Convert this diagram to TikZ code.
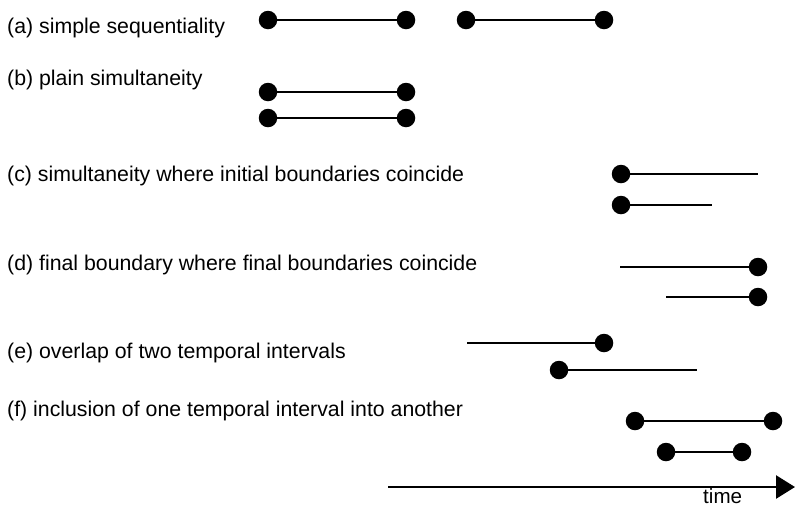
\documentclass[tikz,border=0pt]{standalone}
\usepackage{fontspec}
\setmainfont{Liberation Sans}
\usetikzlibrary{arrows.meta}
\begin{document}
\begin{tikzpicture}[x=1pt,y=-1pt,
  dot/.style={circle,fill=black,draw=none,inner sep=0pt,minimum size=18.5pt},
  seg/.style={line width=2pt},
  lbl/.style={anchor=base west,inner sep=0pt,font=\fontsize{21.3}{24}\selectfont},
  timeaxis/.style={line width=2.6pt,-{Triangle[length=19pt,width=23pt]}}]
\useasboundingbox (0,0) rectangle (795,507);
% labels
\node[lbl] (la) at (7,33) {(a) simple sequentiality};
\node[lbl] (lb) at (7,85) {(b) plain simultaneity};
\node[lbl] (lc) at (7,181) {(c) simultaneity where initial boundaries coincide};
\node[lbl] (ld) at (7,270) {(d) final boundary where final boundaries coincide};
\node[lbl] (le) at (7,358) {(e) overlap of two temporal intervals};
\node[lbl] (lf) at (7,416) {(f) inclusion of one temporal interval into another};
% (a)
\node[dot] (a1) at (268,20) {};
\node[dot] (a2) at (406,20) {};
\node[dot] (a3) at (466,20) {};
\node[dot] (a4) at (604,20) {};
\draw[seg] (a1) -- (a2);
\draw[seg] (a3) -- (a4);
% (b)
\node[dot] (b1) at (268,92) {};
\node[dot] (b2) at (406,92) {};
\node[dot] (b3) at (268,118) {};
\node[dot] (b4) at (406,118) {};
\draw[seg] (b1) -- (b2);
\draw[seg] (b3) -- (b4);
% (c)
\node[dot] (c1) at (621,174) {};
\coordinate (c1e) at (758,174);
\node[dot] (c2) at (621,205) {};
\coordinate (c2e) at (712,205);
\draw[seg] (c1) -- (c1e);
\draw[seg] (c2) -- (c2e);
% (d)
\coordinate (d1s) at (620,267);
\node[dot] (d1) at (758,267) {};
\coordinate (d2s) at (666,297);
\node[dot] (d2) at (758,297) {};
\draw[seg] (d1s) -- (d1);
\draw[seg] (d2s) -- (d2);
% (e)
\coordinate (e1s) at (467,343);
\node[dot] (e1) at (604,343) {};
\node[dot] (e2) at (559,370) {};
\coordinate (e2e) at (697,370);
\draw[seg] (e1s) -- (e1);
\draw[seg] (e2) -- (e2e);
% (f)
\node[dot] (f1) at (635,421) {};
\node[dot] (f2) at (773,421) {};
\node[dot] (f3) at (666,452) {};
\node[dot] (f4) at (742,452) {};
\draw[seg] (f1) -- (f2);
\draw[seg] (f3) -- (f4);
% time axis
\coordinate (t0) at (388,487);
\coordinate (t1) at (795,487);
\draw[timeaxis] (t0) -- (t1);
\node[lbl,font=\fontsize{20.6}{24}\selectfont] (tl) at (703,503) {time};
\end{tikzpicture}
\end{document}
